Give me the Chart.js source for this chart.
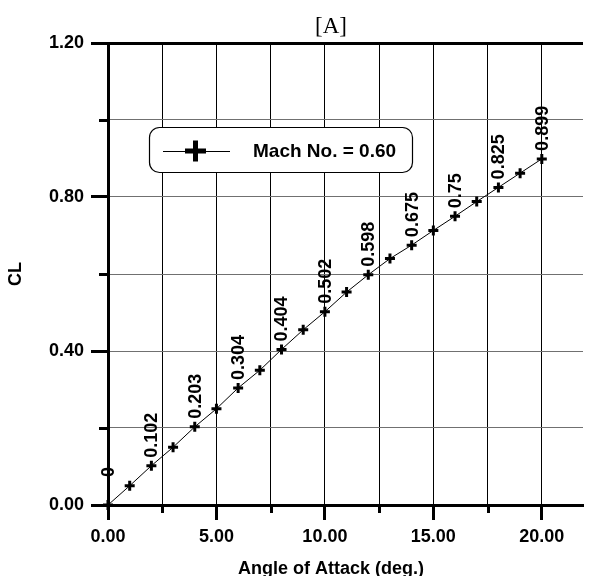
<!DOCTYPE html>
<html><head><meta charset="utf-8">
<script src="https://cdn.jsdelivr.net/npm/chart.js@4.4.1/dist/chart.umd.min.js"></script>
<style>html,body{margin:0;padding:0;background:#fff;}canvas{display:block;}</style>
</head><body>
<canvas id="c" width="591" height="576"></canvas>
<script>
// ---- data ----
const angles = [0,1,2,3,4,5,6,7,8,9,10,11,12,13,14,15,16,17,18,19,20];
const clValues = [0,0.05,0.102,0.15,0.203,0.25,0.304,0.35,0.404,0.455,0.502,0.553,0.598,0.64,0.675,0.713,0.75,0.788,0.825,0.862,0.899];
const labeledAngles = [0,2,4,6,8,10,12,14,16,18,20];
const xTickValues = [0,2.5,5,7.5,10,12.5,15,17.5,20];
const xMajorTicks = [0,5,10,15,20];
const yTickValues = [0,0.2,0.4,0.6,0.8,1.0,1.2];
const yMajorTicks = [0,0.4,0.8,1.2];
const seriesName = 'Mach No. = 0.60';
const chartTitle = '[A]';
const xTitle = 'Angle of Attack (deg.)';
const yTitle = 'CL';

const FONT = "'Liberation Sans', Arial, sans-serif";
const isIn = (arr, v) => arr.some(a => Math.abs(a - v) < 1e-9);

const minorTicks = {
  id: 'minorTicks',
  afterDraw(chart) {
    const {ctx, scales: {x, y}, chartArea: a} = chart;
    ctx.save();
    ctx.strokeStyle = '#000';
    ctx.lineWidth = 3;
    xTickValues.filter(v => !isIn(xMajorTicks, v)).forEach(v => {
      const px = Math.round(x.getPixelForValue(v)) + 0.5;
      ctx.beginPath(); ctx.moveTo(px, a.bottom); ctx.lineTo(px, a.bottom + 8); ctx.stroke();
    });
    yTickValues.filter(v => !isIn(yMajorTicks, v)).forEach(v => {
      const py = Math.round(y.getPixelForValue(v)) + 0.5;
      ctx.beginPath(); ctx.moveTo(a.left, py); ctx.lineTo(a.left - 9, py); ctx.stroke();
    });
    ctx.restore();
  }
};

const pointLabels = {
  id: 'pointLabels',
  afterDatasetsDraw(chart) {
    const {ctx, scales: {x, y}} = chart;
    ctx.save();
    ctx.fillStyle = '#000';
    ctx.font = 'bold 18px ' + FONT;
    ctx.textAlign = 'left';
    ctx.textBaseline = 'middle';
    angles.forEach((a, i) => {
      if (!labeledAngles.includes(a)) return;
      const v = clValues[i];
      const px = x.getPixelForValue(a), py = y.getPixelForValue(v);
      const off = v === 0 ? 28 : 8;
      ctx.save();
      ctx.translate(px + 1, py - off);
      ctx.rotate(-Math.PI / 2);
      ctx.fillText(String(v), 0, 0);
      ctx.restore();
    });
    ctx.restore();
  }
};

const legendBox = {
  id: 'legendBox',
  afterDraw(chart) {
    const {ctx} = chart;
    ctx.save();
    const bx = 149.5, by = 127.5, bw = 263, bh = 45, r = 10;
    ctx.beginPath();
    ctx.roundRect(bx, by, bw, bh, r);
    ctx.fillStyle = '#fff'; ctx.fill();
    ctx.lineWidth = 1.2; ctx.strokeStyle = '#000'; ctx.stroke();
    const cy = 151;
    ctx.lineWidth = 1;
    ctx.beginPath(); ctx.moveTo(163, cy + 0.5); ctx.lineTo(230, cy + 0.5); ctx.stroke();
    ctx.lineWidth = 5;
    ctx.beginPath(); ctx.moveTo(185, cy); ctx.lineTo(206, cy); ctx.moveTo(195.5, cy - 10.5); ctx.lineTo(195.5, cy + 10.5); ctx.stroke();
    ctx.fillStyle = '#000';
    ctx.font = 'bold 19px ' + FONT;
    ctx.textAlign = 'left'; ctx.textBaseline = 'middle';
    ctx.fillText(seriesName, 253, cy + 1);
    ctx.restore();
  }
};

const titles = {
  id: 'titles',
  afterDraw(chart) {
    const {ctx} = chart;
    ctx.save();
    ctx.fillStyle = '#000';
    ctx.textAlign = 'center';
    ctx.font = "23px 'Liberation Serif', 'Times New Roman', serif";
    ctx.textBaseline = 'alphabetic';
    ctx.fillText(chartTitle, 331, 33);
    ctx.font = 'bold 18px ' + FONT;
    ctx.fillText(xTitle, 331, 574);
    ctx.restore();
  }
};

new Chart(document.getElementById('c'), {
  type: 'line',
  data: {
    datasets: [{
      label: seriesName,
      data: angles.map((a, i) => ({x: a, y: clValues[i]})),
      borderColor: '#000',
      borderWidth: 1,
      pointStyle: 'cross',
      pointRadius: 5,
      pointBorderWidth: 3,
      pointBorderColor: '#000',
      pointBackgroundColor: '#000',
      fill: false,
      tension: 0,
      clip: false
    }]
  },
  options: {
    responsive: false,
    animation: false,
    devicePixelRatio: 1,
    layout: {padding: {top: 43, right: 0, bottom: 0, left: 0}},
    plugins: {legend: {display: false}, tooltip: {enabled: false}, title: {display: false}},
    scales: {
      x: {
        type: 'linear',
        min: 0, max: 21.9,
        afterBuildTicks: s => { s.ticks = xTickValues.map(v => ({value: v})); },
        afterFit: s => { s.height = 71; },
        ticks: {
          color: '#000', padding: 6, maxRotation: 0, autoSkip: false,
          font: {family: FONT, size: 18, weight: 'bold'},
          callback: v => isIn(xMajorTicks, v) ? v.toFixed(2) : ''
        },
        grid: {
          color: '#000', lineWidth: 1, tickLength: 15, tickWidth: 3,
          tickColor: c => isIn(xMajorTicks, c.tick.value) ? '#000' : 'rgba(0,0,0,0)'
        },
        border: {display: true, color: '#000', width: 3}
      },
      y: {
        type: 'linear',
        min: 0, max: 1.2,
        afterBuildTicks: s => { s.ticks = yTickValues.map(v => ({value: v})); },
        afterFit: s => { s.width = 108; },
        title: {display: true, text: yTitle, color: '#000', font: {family: FONT, size: 18, weight: 'bold'}, padding: {top: 5, bottom: 0}},
        ticks: {
          color: '#000', padding: 7, autoSkip: false,
          font: {family: FONT, size: 18, weight: 'bold'},
          callback: v => isIn(yMajorTicks, v) ? v.toFixed(2) : ''
        },
        grid: {
          color: c => Math.abs(c.tick.value - 1.2) < 1e-9 ? '#000' : '#707070',
          lineWidth: c => Math.abs(c.tick.value - 1.2) < 1e-9 ? 3 : 1,
          tickLength: 17, tickWidth: 3,
          tickColor: c => isIn(yMajorTicks, c.tick.value) ? '#000' : 'rgba(0,0,0,0)'
        },
        border: {display: true, color: '#000', width: 3}
      }
    }
  },
  plugins: [minorTicks, pointLabels, legendBox, titles]
});
</script>
</body></html>
